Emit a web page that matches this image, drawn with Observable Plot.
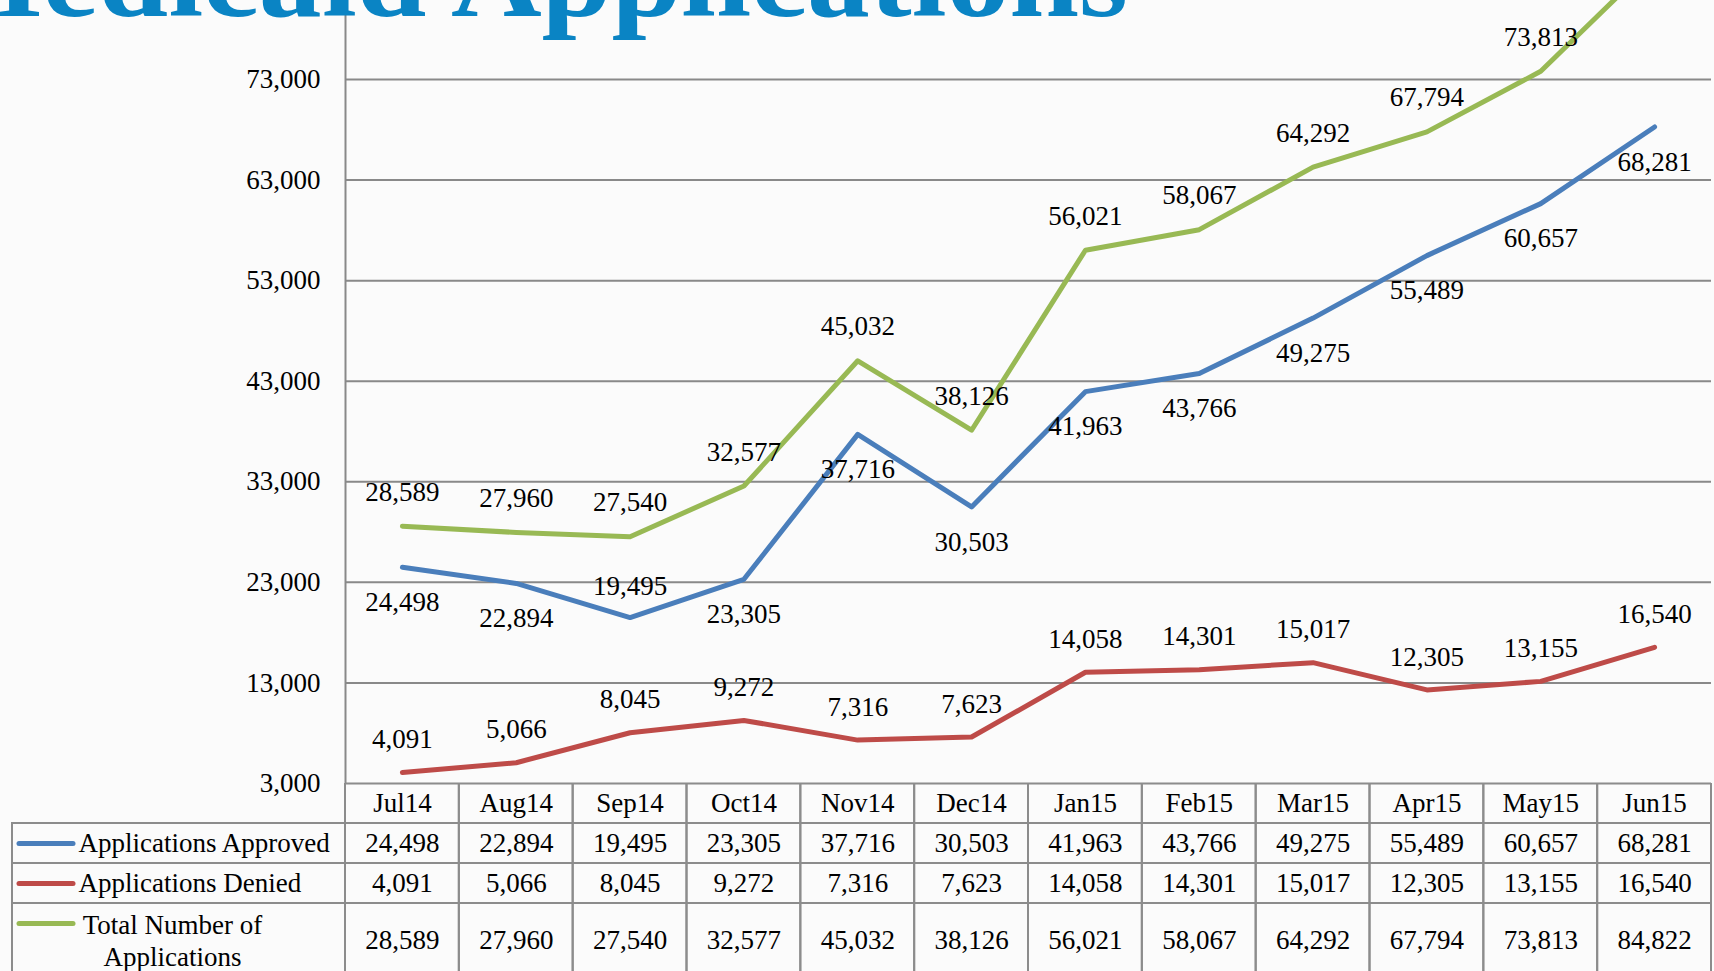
<!DOCTYPE html>
<html>
<head>
<meta charset="utf-8">
<script src="https://cdn.jsdelivr.net/npm/d3@7"></script>
<script src="https://cdn.jsdelivr.net/npm/@observablehq/plot@0.6"></script>
<style>
  html, body { margin: 0; padding: 0; background: #fbfbfb; overflow: hidden; }
  #wrap { position: relative; width: 1714px; height: 971px; overflow: hidden; }
  #chart { position: absolute; left: 0; top: 0; }
  #table { position: absolute; left: 0; top: 783px; }
  #title { position: absolute; left: 0; top: 0; }
</style>
</head>
<body>
<div id="wrap">
  <div id="chart"></div>
  <div id="table"></div>
  <svg id="title" width="1714" height="60">
    <text x="-76" y="16" font-family="'Liberation Serif', serif" font-weight="bold" font-size="115"
          fill="#0a84c4" textLength="1204" lengthAdjust="spacingAndGlyphs">Medicaid Applications</text>
  </svg>
</div>
<script>
// ---- data ----
const months = ["Jul14","Aug14","Sep14","Oct14","Nov14","Dec14","Jan15","Feb15","Mar15","Apr15","May15","Jun15"];
const approved = [24498,22894,19495,23305,37716,30503,41963,43766,49275,55489,60657,68281];
const denied   = [4091,5066,8045,9272,7316,7623,14058,14301,15017,12305,13155,16540];
const total    = [28589,27960,27540,32577,45032,38126,56021,58067,64292,67794,73813,84822];
const seriesNames = ["Applications Approved","Applications Denied","Total Number of Applications"];
const yTicks = [3000,13000,23000,33000,43000,53000,63000,73000];

// ---- styling ----
const colors = ["#4a7ebb","#be4b48","#98b954"];
const font = "'Liberation Serif', serif";
const gridColor = "#898989";
const tableColor = "#8c8c8c";
const fs = 27;
const fmt = d3.format(",");

const seriesValues = [approved, denied, total];
const rows = seriesNames.flatMap((s, si) => months.map((m, i) => ({series: s, si, month: m, value: seriesValues[si][i]})));

const W = 1714, mL = 345, mR = 3;
const bandW = (W - mL - mR) / months.length;

const chart = Plot.plot({
  width: W, height: 784,
  marginLeft: mL, marginRight: mR, marginTop: 0, marginBottom: 1,
  style: {background: "none", fontFamily: font, fontSize: fs + "px", color: "#000", overflow: "visible"},
  x: {type: "band", domain: months, padding: 0, round: false, axis: null},
  y: {domain: [3000, 80855], axis: null},
  color: {domain: seriesNames, range: colors},
  marks: [
    Plot.ruleY(yTicks, {stroke: gridColor, strokeWidth: 2}),
    Plot.ruleX([months[0]], {x: d => d, dx: -bandW / 2, stroke: gridColor, strokeWidth: 2}),
    Plot.axisY(yTicks, {tickSize: 0, tickPadding: 25, tickFormat: fmt, fontSize: fs, label: null}),
    Plot.line(rows, {x: "month", y: "value", z: "series", stroke: "series", strokeWidth: 5, clip: true}),
    // total labels above
    Plot.text(rows.filter(d => d.si === 2), {x: "month", y: "value", text: d => fmt(d.value), dy: -34, fontSize: fs, fill: "#000"}),
    // denied labels above
    Plot.text(rows.filter(d => d.si === 1), {x: "month", y: "value", text: d => fmt(d.value), dy: -33, fontSize: fs, fill: "#000"}),
    // approved labels below (Sep14 above)
    Plot.text(rows.filter(d => d.si === 0 && d.month !== "Sep14"), {x: "month", y: "value", text: d => fmt(d.value), dy: 35, fontSize: fs, fill: "#000"}),
    Plot.text(rows.filter(d => d.si === 0 && d.month === "Sep14"), {x: "month", y: "value", text: d => fmt(d.value), dy: -31, fontSize: fs, fill: "#000"})
  ]
});
document.getElementById("chart").appendChild(chart);

// ---- data table ----
const rowLayout = [
  {key: "header", r0: 0, r1: 1},
  {key: seriesNames[0], r0: 1, r1: 2, si: 0},
  {key: seriesNames[1], r0: 2, r1: 3, si: 1},
  {key: seriesNames[2], r0: 3, r1: 5, si: 2}
];
const cells = rowLayout.flatMap(r => months.map(m => ({month: m, r0: r.r0, r1: r.r1})));
const bodyRows = rowLayout.slice(1);
const valueCells = rows.map(d => ({...d, yc: d.si === 2 ? 3.93 : rowLayout[d.si + 1].r0 + 0.5}));

const table = Plot.plot({
  width: W, height: 200,
  marginLeft: mL, marginRight: mR, marginTop: 0, marginBottom: 0,
  style: {background: "none", fontFamily: font, fontSize: fs + "px", color: "#000", overflow: "hidden"},
  x: {type: "band", domain: months, padding: 0, round: false, axis: null},
  y: {domain: [0, 5], range: [0, 200], axis: null},
  color: {domain: seriesNames, range: colors},
  marks: [
    Plot.barY(cells, {x: "month", y1: "r0", y2: "r1", fill: "none", stroke: tableColor, strokeWidth: 2}),
    Plot.barY(bodyRows, {y1: "r0", y2: "r1", fill: "none", stroke: tableColor, strokeWidth: 2, insetLeft: -(mL - 12), insetRight: W - mL - mR}),
    Plot.text(months, {x: d => d, y: 0.5, text: d => d, fontSize: fs, fill: "#000"}),
    Plot.text(valueCells, {x: "month", y: "yc", text: d => fmt(d.value), fontSize: fs, fill: "#000"}),
    Plot.ruleY(bodyRows, {y: d => d.si === 2 ? 3.5 : d.r0 + 0.5, stroke: d => d.key, strokeWidth: 5, strokeLinecap: "round",
      insetLeft: -(mL - 19), insetRight: W - mR - 73}),
    Plot.text(bodyRows.filter(d => d.si !== 2), {y: d => d.r0 + 0.5, text: "key", frameAnchor: "left", dx: -(mL - 78), textAnchor: "start", fontSize: fs, fill: "#000"}),
    Plot.text(bodyRows.filter(d => d.si === 2), {y: 3.9, text: () => "Total Number of\nApplications", frameAnchor: "left", dx: -(mL - 172), textAnchor: "middle", lineHeight: 1.18, fontSize: fs, fill: "#000"})
  ]
});
document.getElementById("table").appendChild(table);
</script>
</body>
</html>
